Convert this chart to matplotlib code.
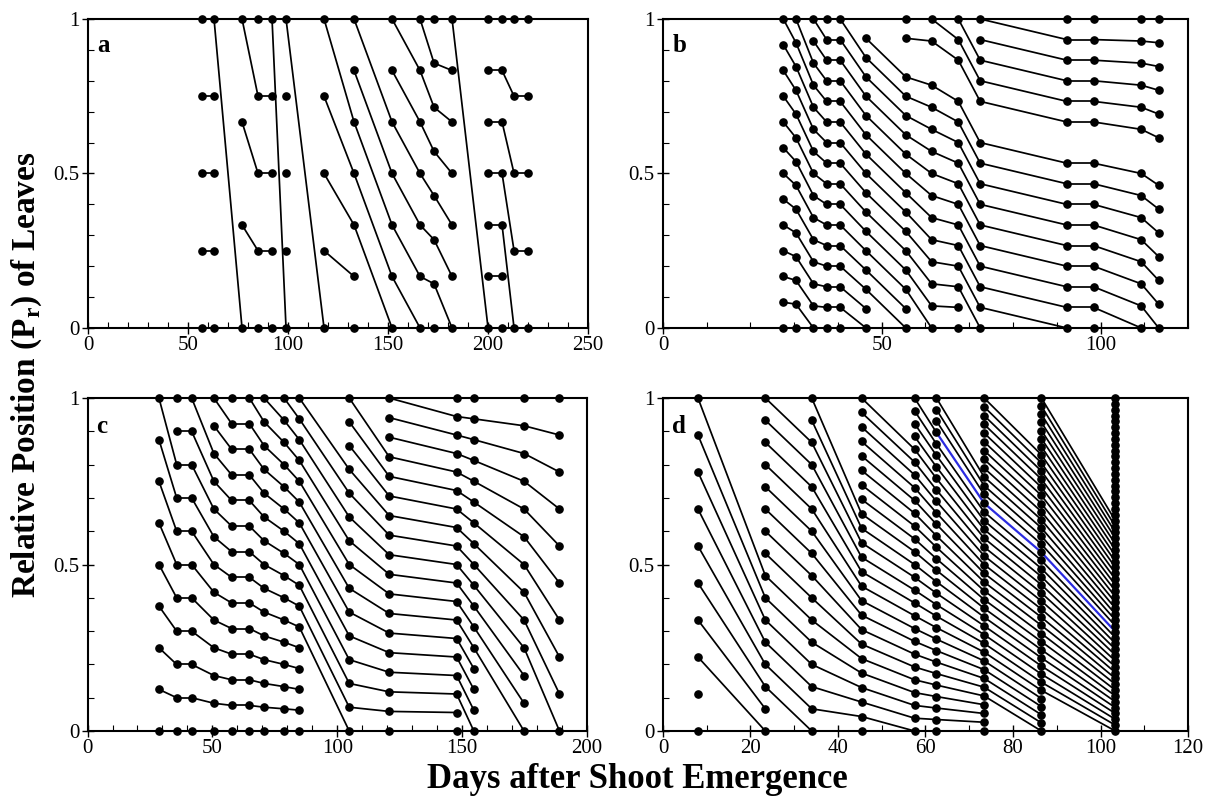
import matplotlib
matplotlib.use("Agg")
import matplotlib.pyplot as plt
from matplotlib.ticker import MultipleLocator

plt.rcParams['font.family'] = ['Liberation Serif', 'DejaVu Serif']
plt.rcParams['mathtext.fontset'] = 'custom'
plt.rcParams['mathtext.rm'] = 'Liberation Serif'
plt.rcParams['mathtext.bf'] = 'Liberation Serif:bold'

# Each panel: observation days, number of leaf positions on the shoot at each
# day, and how many basal leaves were shed between consecutive days (a leaf at
# rank r counted from the base moves to rank r - lost).
days_a = [57, 63, 77, 85, 92, 99, 118, 133, 152, 166, 173, 182, 200, 207, 213, 220]
leaves_a = [5, 5, 4, 5, 5, 5, 5, 7, 7, 7, 8, 7, 7, 7, 5, 5]
lost_a = [0, 4, 0, 0, 4, 4, 0, 2, 1, 0, 1, 6, 0, 2, 0]

days_b = [27.5, 30.4, 34.4, 37.4, 40.5, 46.4, 55.5, 61.4, 67.5, 72.5,
          92.3, 98.4, 109.3, 113.3]
leaves_b = [13, 14, 15, 16, 16, 17, 17, 15, 16, 16, 16, 16, 15, 14]
lost_b = [0, 1, 0, 0, 1, 2, 2, 0, 2, 1, 0, 1, 1]
# leaf that is counted but has no marker: (day index, rank) where it first shows
hidden_b = [(5, 16)]

days_c = [28.6, 35.7, 41.7, 50.6, 57.7, 64.8, 70.7, 78.7, 84.8, 104.8,
          120.8, 147.8, 154.7, 174.8, 189.0]
leaves_c = [9, 11, 11, 13, 14, 14, 15, 16, 17, 15, 18, 19, 17, 13, 10]
lost_c = [0, 0, 0, 0, 0, 0, 0, 0, 5, 0, 0, 2, 4, 3]

days_d = [8, 23.4, 34, 45.4, 57.5, 62.5, 73.4, 86.5, 103.4]
leaves_d = [10, 16, 16, 24, 27, 30, 39, 42, 58]
lost_d = [2, 2, 0, 1, 0, 0, 4, 5]
traced_d = (5, 26)   # leaf followed in blue from day 62.5

panel_labels = ['a', 'b', 'c', 'd']
x_limits = [250, 120, 200, 120]
x_major = [50, 50, 50, 20]


def draw_panel(ax, days, leaves, lost, hidden=(), traced=None):
    nd = len(days)

    def follow(j0, r0):
        out = []
        j, r = j0, r0
        while j < nd and 0 <= r < leaves[j]:
            out.append((j, r))
            if j == nd - 1:
                break
            r -= lost[j]
            j += 1
        return out

    skip = [set() for _ in days]
    for j0, r0 in hidden:
        for j, r in follow(j0, r0):
            skip[j].add(r)
    blue = set(follow(*traced)) if traced else set()

    def pr(j, r):
        return r / (leaves[j] - 1)

    for j in range(nd - 1):
        for r in range(leaves[j]):
            r2 = r - lost[j]
            if r in skip[j] or r2 < 0 or r2 >= leaves[j + 1] or r2 in skip[j + 1]:
                continue
            if (j, r) in blue and (j + 1, r2) in blue:
                col, z, w = '#2b2be0', 3.5, 1.6
            else:
                col, z, w = 'black', 3, 1.25
            ax.plot([days[j], days[j + 1]], [pr(j, r), pr(j + 1, r2)],
                    color=col, lw=w, clip_on=False, zorder=z)

    for j in range(nd):
        ranks = [r for r in range(leaves[j]) if r not in skip[j]]
        ax.plot([days[j]] * len(ranks), [pr(j, r) for r in ranks], 'o',
                ms=5.2, color='black', clip_on=False, zorder=4)


fig = plt.figure(figsize=(12.14, 7.97), dpi=100)
boxes = [[0.0725, 0.5885, 0.4119, 0.3877],
         [0.5461, 0.5885, 0.4325, 0.3877],
         [0.0721, 0.0828, 0.4114, 0.4178],
         [0.5461, 0.0828, 0.4325, 0.4178]]
data = [(days_a, leaves_a, lost_a, (), None),
        (days_b, leaves_b, lost_b, hidden_b, None),
        (days_c, leaves_c, lost_c, (), None),
        (days_d, leaves_d, lost_d, (), traced_d)]

for box, (days, leaves, lost, hidden, traced), lab, xl, xm in zip(
        boxes, data, panel_labels, x_limits, x_major):
    ax = fig.add_axes(box)
    draw_panel(ax, days, leaves, lost, hidden, traced)
    ax.set_xlim(0, xl)
    ax.set_ylim(0, 1)
    ax.xaxis.set_major_locator(MultipleLocator(xm))
    ax.xaxis.set_minor_locator(MultipleLocator(10))
    ax.yaxis.set_minor_locator(MultipleLocator(0.1))
    ax.set_yticks([0, 0.5, 1])
    ax.set_yticklabels(['0', '0.5', '1'])
    ax.tick_params(which='major', direction='inout', length=8, width=1,
                   labelsize=15, top=False, right=False, pad=2)
    ax.tick_params(which='minor', direction='in', length=4, width=0.8,
                   top=False, right=False)
    for s in ax.spines.values():
        s.set_linewidth(1.5)
    ax.text(0.018, 0.95, lab, transform=ax.transAxes, fontsize=18,
            fontweight='bold', va='top', ha='left')

fig.text(0.022, 0.53, r'Relative Position (P$_\mathbf{r}$) of Leaves',
         rotation=90, fontsize=24, fontweight='bold', ha='center', va='center')
fig.text(0.525, 0.022, 'Days after Shoot Emergence', fontsize=25,
         fontweight='bold', ha='center', va='center')

fig.savefig('out.png', dpi=100)
